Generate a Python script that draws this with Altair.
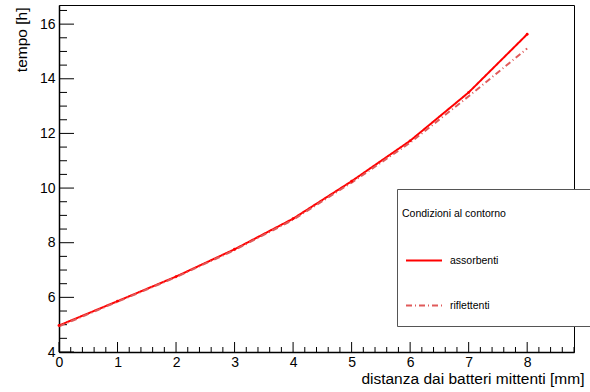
import altair as alt
import pandas as pd

# ---- data ----
distanza = [0, 1, 2, 3, 4, 5, 6, 7, 8]
tempo_assorbenti = [4.97, 5.86, 6.76, 7.76, 8.88, 10.25, 11.73, 13.50, 15.63]
tempo_riflettenti = [4.94, 5.84, 6.74, 7.73, 8.84, 10.20, 11.66, 13.36, 15.11]
serie = ["assorbenti", "riflettenti"]
colori = ["#ff0000", "#e05a5a"]
tratteggi = [[1, 0], [6, 3, 1, 3]]

x_major = [0, 1, 2, 3, 4, 5, 6, 7, 8]
x_minor = [i / 5 for i in range(0, 45) if i % 5]
y_major = [4, 6, 8, 10, 12, 14, 16]
y_minor = [4 + i / 2 for i in range(0, 26) if i % 4]

FONT = "Liberation Sans"
W, H = 515, 347

x_scale = alt.Scale(domain=[0, 8.8], nice=False, zero=False)
y_scale = alt.Scale(domain=[4, 16.7], nice=False, zero=False)

df = pd.DataFrame({
    "distanza": distanza * 2,
    "tempo": tempo_assorbenti + tempo_riflettenti,
    "serie": [serie[0]] * len(distanza) + [serie[1]] * len(distanza),
})

leg = alt.Legend(
    title="Condizioni al contorno",
    orient="none", legendX=338, legendY=199,
    symbolType="stroke", symbolSize=1296, symbolStrokeWidth=2,
    symbolOffset=3, labelOffset=7, padding=5,
    titlePadding=22, rowPadding=20,
    titleFont=FONT, titleFontSize=10.5, titleFontWeight="normal", titleColor="black",
    labelFont=FONT, labelFontSize=10.5, labelColor="black",
)

lines = alt.Chart(df).mark_line(strokeWidth=2).encode(
    x=alt.X("distanza:Q", scale=x_scale, axis=alt.Axis(
        values=x_major, format="d", title="distanza dai batteri mittenti [mm]",
        titleAnchor="end", titleAlign="right", titleX=525, titleY=31,
        titleBaseline="alphabetic", labelPadding=3, labelFlush=False)),
    y=alt.Y("tempo:Q", scale=y_scale, axis=alt.Axis(
        values=y_major, format="d", title="tempo [h]", titleAngle=270,
        titleAlign="right", titleBaseline="alphabetic", titleX=-33, titleY=2,
        labelPadding=4, labelFlush=False)),
    color=alt.Color("serie:N", scale=alt.Scale(domain=serie, range=colori), legend=leg),
    strokeDash=alt.StrokeDash("serie:N", scale=alt.Scale(domain=serie, range=tratteggi), legend=leg),
)

punti = alt.Chart(df[df["serie"] == serie[0]]).mark_circle(size=8, color="#ff0000", opacity=1).encode(
    x=alt.X("distanza:Q", scale=x_scale), y=alt.Y("tempo:Q", scale=y_scale))

xt_major = alt.Chart(pd.DataFrame({"v": x_major})).mark_rule(color="black", strokeWidth=1).encode(
    x=alt.X("v:Q", scale=x_scale), y=alt.value(H), y2=alt.value(H - 10))
xt_minor = alt.Chart(pd.DataFrame({"v": x_minor})).mark_rule(color="black", strokeWidth=1).encode(
    x=alt.X("v:Q", scale=x_scale), y=alt.value(H), y2=alt.value(H - 5))
yt_major = alt.Chart(pd.DataFrame({"v": y_major})).mark_rule(color="black", strokeWidth=1).encode(
    y=alt.Y("v:Q", scale=y_scale), x=alt.value(0), x2=alt.value(15))
yt_minor = alt.Chart(pd.DataFrame({"v": y_minor})).mark_rule(color="black", strokeWidth=1).encode(
    y=alt.Y("v:Q", scale=y_scale), x=alt.value(0), x2=alt.value(8))

box = alt.Chart(pd.DataFrame({"k": [0]})).mark_rect(fill="white", stroke="#555555", strokeWidth=1).encode(
    x=alt.value(338.5), x2=alt.value(545), y=alt.value(184.5), y2=alt.value(321.5))

chart = alt.layer(xt_minor, xt_major, yt_minor, yt_major, lines, punti, box).properties(
    width=W, height=H,
    padding={"left": 59, "right": 16, "top": 5, "bottom": 40},
    autosize=alt.AutoSizeParams(type="none"),
).configure_view(
    stroke="black", strokeWidth=1,
).configure_axis(
    grid=False, ticks=False, domainColor="black", domainWidth=1.5,
    labelFont=FONT, labelFontSize=14, labelColor="black",
    titleFont=FONT, titleFontSize=15.5, titleFontWeight="normal", titleColor="black",
)

chart.save("out.html", embed_options={"renderer": "svg", "actions": False})
